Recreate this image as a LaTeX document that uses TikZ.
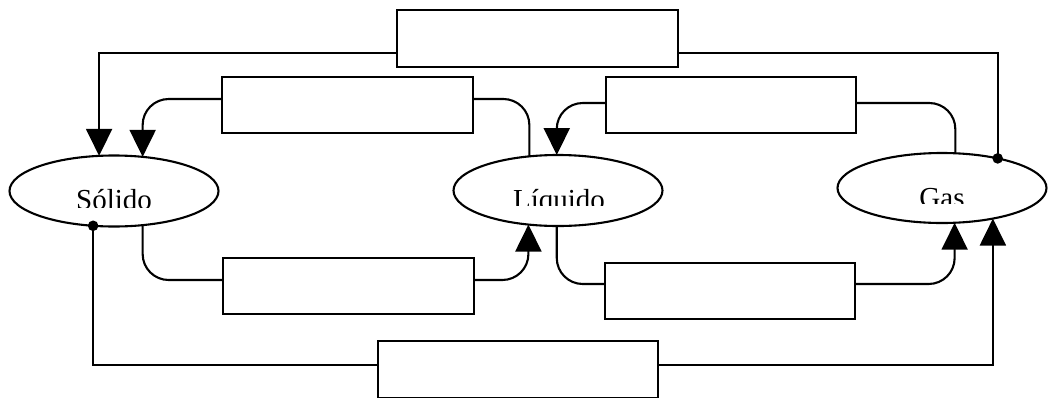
\documentclass[tikz,border=0pt]{standalone}
\usepackage{fontspec}
\setmainfont{Liberation Serif}
\usetikzlibrary{arrows.meta,shapes.geometric}
\begin{document}
\begin{tikzpicture}[x=1pt,y=-1pt,
  line width=2.1pt,
  statebox/.style={draw,ellipse,inner sep=0pt,outer sep=0pt,minimum width=209pt,minimum height=71pt},
  emptybox/.style={draw,rectangle,inner sep=0pt,outer sep=0pt,minimum width=251pt,minimum height=56pt},
  lbl/.style={anchor=base,inner sep=0pt,font=\fontsize{29}{34}\selectfont},
  arr/.style={-{Triangle[length=27pt,width=26pt]}},
  rc/.style={rounded corners=26pt},
  dotend/.style={fill,radius=5.3pt}]
\useasboundingbox (0,0) rectangle (1050,397);
% states
\node[statebox] (sol) at (114,191) {};
\node[statebox] (liq) at (558,190.5) {};
\node[statebox,minimum height=70pt] (gas) at (942,188) {};
% clipped labels
\begin{scope}
  \clip (0,150) rectangle (1050,207);
  \node[lbl] (tsol) at (114,209) {Sólido};
\end{scope}
\begin{scope}
  \clip (0,150) rectangle (1050,205);
  \node[lbl] (tliq) at (559,209) {Líquido};
\end{scope}
\begin{scope}
  \clip (0,150) rectangle (1050,203);
  \node[lbl] (tgas) at (942,207) {Gas};
\end{scope}
% boxes
\node[emptybox,minimum width=281pt,minimum height=57pt] (btop) at (537.5,38.5) {};
\node[emptybox] (b2) at (347.5,105) {};
\node[emptybox,minimum width=250pt] (b3) at (731,105) {};
\node[emptybox] (b4) at (348.5,286) {};
\node[emptybox,minimum width=250pt] (b5) at (730,291) {};
\node[emptybox,minimum width=280pt,minimum height=57pt] (bbot) at (518,369.5) {};
% line levels
\coordinate (ytop) at (0,53);
\coordinate (y2) at (0,99);
\coordinate (y3) at (0,103);
\coordinate (y4) at (0,280);
\coordinate (y5) at (0,284);
\coordinate (ybot) at (0,365);
% top long connector: gas -> solid
\draw[arr] (btop.west |- ytop) -| (sol.113);
\draw (btop.east |- ytop) -| (gas.28);
\fill[dotend] (gas.28) circle;
% upper left: liquid -> solid
\draw[arr,rc] (b2.west |- y2) -| (sol.50);
\draw[rc] (b2.east |- y2) -| (liq.130);
% upper right: gas -> liquid
\draw[arr,rc] (b3.west |- y3) -| (liq.92);
\draw[rc] (b3.east |- y3) -| (gas.69.5);
% lower left: solid -> liquid
\draw[rc] (sol.310) |- (b4.west |- y4);
\draw[arr,rc] (b4.east |- y4) -| (liq.229);
% lower right: liquid -> gas
\draw[rc] (liq.268) |- (b5.west |- y5);
\draw[arr,rc] (b5.east |- y5) -| (gas.290.5);
% bottom long connector: solid -> gas
\draw (sol.239) |- (bbot.west |- ybot);
\fill[dotend] (sol.239) circle;
\draw[arr] (bbot.east |- ybot) -| (gas.329);
\end{tikzpicture}
\end{document}
